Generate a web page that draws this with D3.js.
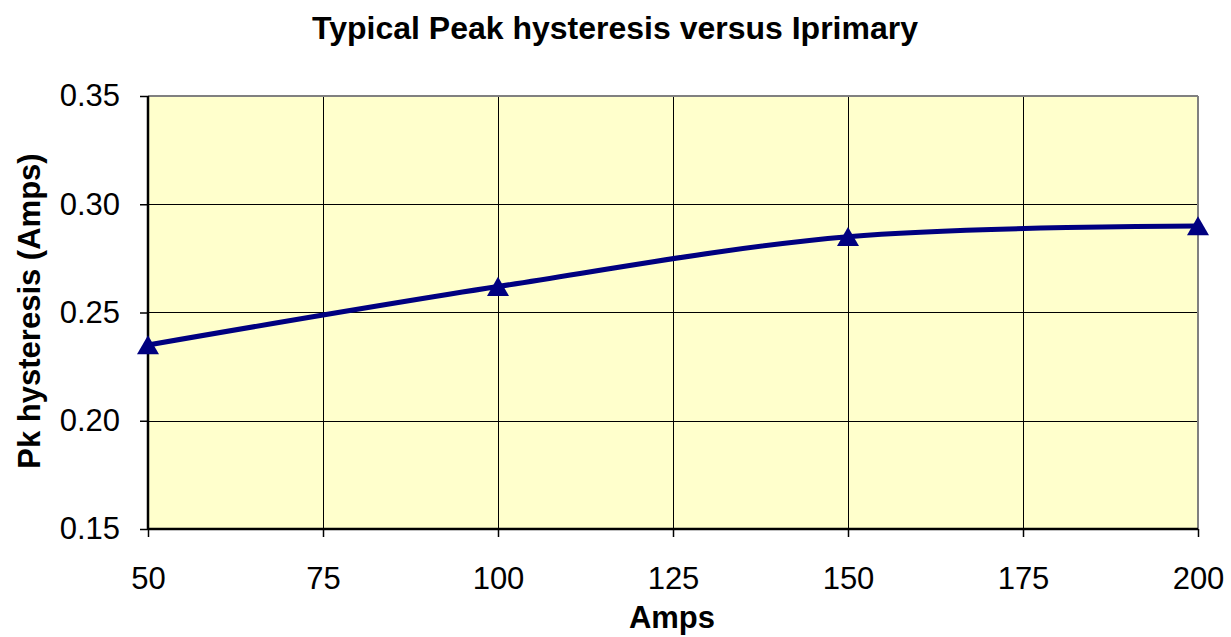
<!DOCTYPE html>
<html>
<head>
<meta charset="utf-8">
<script src="https://cdn.jsdelivr.net/npm/d3@7"></script>
<style>
  html, body { margin: 0; padding: 0; background: #ffffff; }
  svg { display: block; font-family: "Liberation Sans", Arial, sans-serif; }
</style>
</head>
<body>
<svg id="chart" width="1231" height="637"></svg>
<script>
const amps = [50, 100, 150, 200];
const hysteresis = [0.235, 0.262, 0.285, 0.290];
const xTicks = [50, 75, 100, 125, 150, 175, 200];
const yTicks = [0.15, 0.20, 0.25, 0.30, 0.35];
const titleText = "Typical Peak hysteresis versus Iprimary";
const xLabel = "Amps";
const yLabel = "Pk hysteresis (Amps)";

const svg = d3.select("#chart");
const m = { left: 148, right: 1198, top: 96, bottom: 529 };
const x = d3.scaleLinear().domain([50, 200]).range([m.left, m.right]);
const y = d3.scaleLinear().domain([0.15, 0.35]).range([m.bottom, m.top]);
const FONT = "Liberation Sans, Arial, sans-serif";

svg.append("rect").attr("x", m.left).attr("y", m.top)
  .attr("width", m.right - m.left).attr("height", m.bottom - m.top)
  .attr("fill", "#FFFFCC");

// gridlines
svg.append("g").selectAll("line").data(xTicks.slice(1, -1)).join("line")
  .attr("x1", d => Math.round(x(d)) + 0.5).attr("x2", d => Math.round(x(d)) + 0.5)
  .attr("y1", m.top).attr("y2", m.bottom).attr("stroke", "#000").attr("stroke-width", 1);
svg.append("g").selectAll("line").data(yTicks.slice(1, -1)).join("line")
  .attr("y1", d => Math.round(y(d)) + 0.5).attr("y2", d => Math.round(y(d)) + 0.5)
  .attr("x1", m.left).attr("x2", m.right).attr("stroke", "#000").attr("stroke-width", 1);

// top/right borders gray
svg.append("line").attr("x1", m.left).attr("x2", m.right).attr("y1", m.top).attr("y2", m.top)
  .attr("stroke", "#808080").attr("stroke-width", 2);
svg.append("line").attr("x1", m.right).attr("x2", m.right).attr("y1", m.top).attr("y2", m.bottom)
  .attr("stroke", "#808080").attr("stroke-width", 2);

// axes
const xAxis = d3.axisBottom(x).tickValues(xTicks).tickSize(8).tickPadding(30).tickFormat(d3.format("d"));
const gx = svg.append("g").attr("transform", `translate(0,${m.bottom})`).call(xAxis);
gx.select(".domain").attr("stroke-width", 2.5).attr("d", `M${m.left},0H${m.right}`);
gx.selectAll(".tick line").attr("stroke-width", 1.5);
gx.selectAll("text").attr("font-size", 31).attr("font-family", FONT).attr("fill", "#000");

const yAxis = d3.axisLeft(y).tickValues(yTicks).tickSize(8).tickPadding(20).tickFormat(d3.format(".2f"));
const gy = svg.append("g").attr("transform", `translate(${m.left},0)`).call(yAxis);
gy.select(".domain").attr("stroke-width", 2.5).attr("d", `M0,${m.top}V${m.bottom}`);
gy.selectAll(".tick line").attr("stroke-width", 1.5);
gy.selectAll("text").attr("font-size", 31).attr("font-family", FONT).attr("fill", "#000");

// line
const data = amps.map((a, i) => ({ a, v: hysteresis[i] }));
const line = d3.line().x(d => x(d.a)).y(d => y(d.v)).curve(d3.curveCatmullRom.alpha(0.5));
svg.append("path").datum(data).attr("d", line).attr("fill", "none")
  .attr("stroke", "#000080").attr("stroke-width", 5);

const tri = d3.symbol().type(d3.symbolTriangle).size(210);
svg.append("g").selectAll("path").data(data).join("path")
  .attr("d", tri).attr("transform", d => `translate(${x(d.a)},${y(d.v) + 3})`)
  .attr("fill", "#000080");

// titles
svg.append("text").attr("x", 615).attr("y", 39).attr("text-anchor", "middle")
  .attr("font-size", 32).attr("font-weight", "bold").text(titleText);
svg.append("text").attr("x", 672).attr("y", 628).attr("text-anchor", "middle")
  .attr("font-size", 31).attr("font-weight", "bold").text(xLabel);
svg.append("text").attr("transform", "translate(40,311) rotate(-90)").attr("text-anchor", "middle")
  .attr("font-size", 31).attr("font-weight", "bold").text(yLabel);
</script>
</body>
</html>
